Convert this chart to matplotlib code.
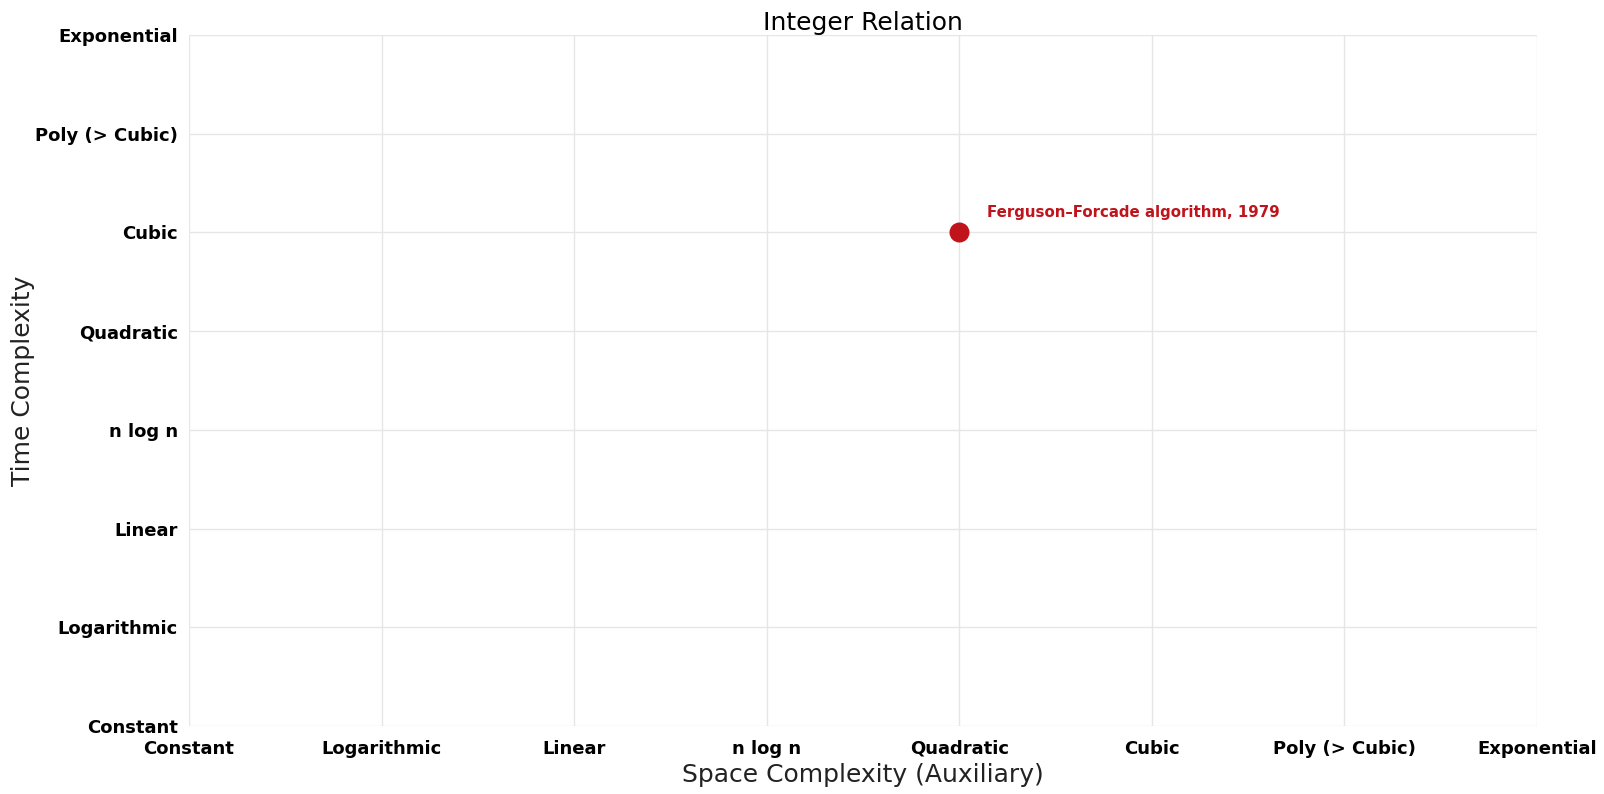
import matplotlib
matplotlib.use("Agg")
import matplotlib.pyplot as plt

levels = ["Constant", "Logarithmic", "Linear", "n log n", "Quadratic",
          "Cubic", "Poly (> Cubic)", "Exponential"]

algo_names = ["Ferguson–Forcade algorithm, 1979"]
algo_space = ["Quadratic"]
algo_time = ["Cubic"]

fig = plt.figure(figsize=(16.04, 7.94), dpi=100)
ax = fig.add_axes([189 / 1604, 1 - 726 / 794, (1537 - 189) / 1604, (726 - 35) / 794])

xs = [levels.index(s) for s in algo_space]
ys = [levels.index(t) for t in algo_time]
ax.scatter(xs, ys, s=180, color="#c0141c", zorder=3, clip_on=False)
for name, x, y in zip(algo_names, xs, ys):
    ax.annotate(name, (x, y), xytext=(20, 9), textcoords="offset points",
                color="#c0141c", fontsize=10.8, fontweight="bold",
                ha="left", va="bottom")

ax.set_xlim(0, len(levels) - 1)
ax.set_ylim(0, len(levels) - 1)
ax.set_xticks(range(len(levels)))
ax.set_yticks(range(len(levels)))
ax.set_xticklabels(levels, fontsize=13, fontweight="bold")
ax.set_yticklabels(levels, fontsize=13, fontweight="bold")
ax.tick_params(axis="x", length=0, pad=10)
ax.tick_params(axis="y", length=0, pad=8)
ax.grid(True, color="#e6e6e6", linewidth=1)
ax.set_axisbelow(True)
for sp in ax.spines.values():
    sp.set_visible(False)

ax.set_xlabel("Space Complexity (Auxiliary)", fontsize=18, color="#222222")
ax.set_ylabel("Time Complexity", fontsize=18, color="#222222", labelpad=0)
ax.set_title("Integer Relation", fontsize=18, pad=2)

fig.savefig("out.png", dpi=100)
